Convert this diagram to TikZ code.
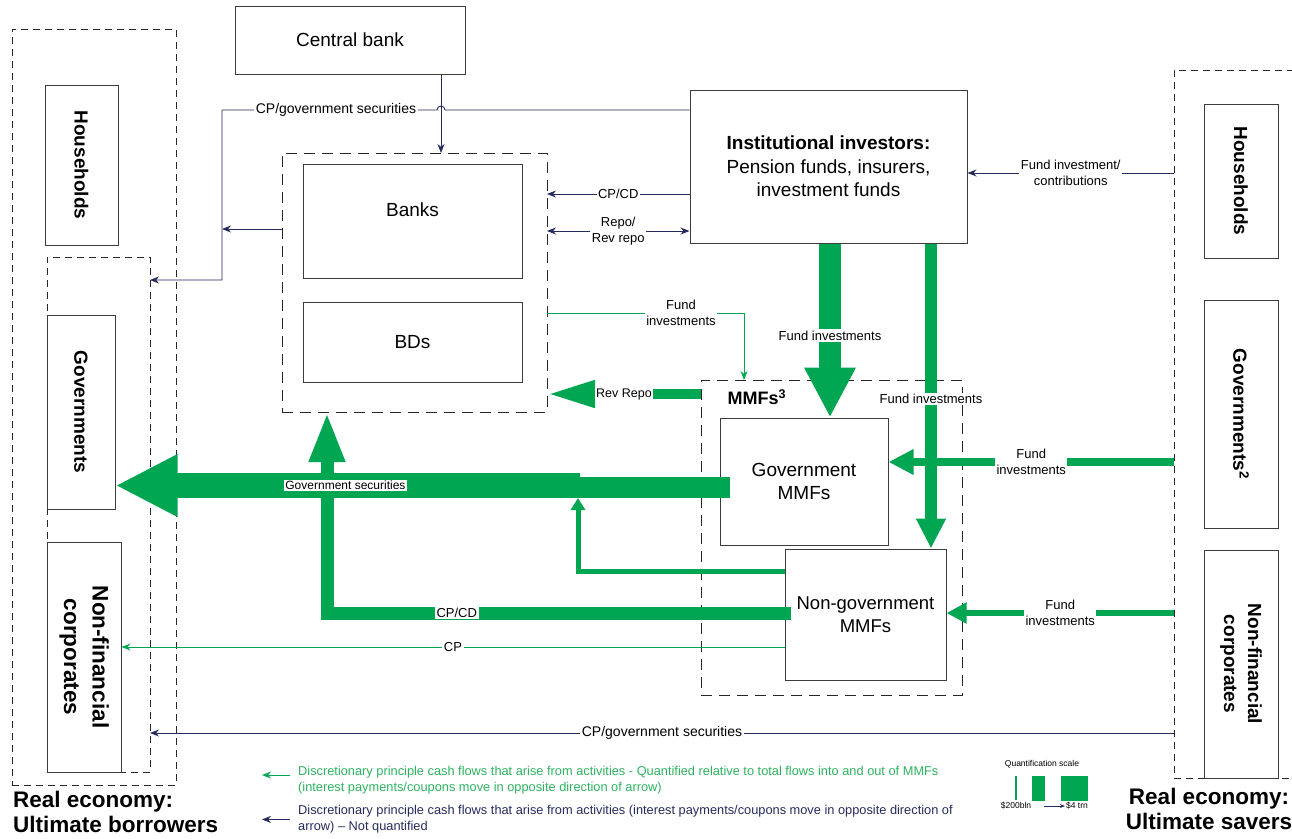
\documentclass[tikz,border=0pt]{standalone}
\usepackage{fontspec}
\setmainfont{Liberation Sans}
\usepackage{graphicx}
\usepackage{tikz}
\usetikzlibrary{arrows.meta}
\usepackage{xcolor}
\definecolor{flowgreen}{HTML}{00A651}
\definecolor{legendgreen}{HTML}{2DB35F}
\definecolor{navy}{HTML}{252B5C}
\definecolor{boxline}{HTML}{3C3C3C}
\newcommand{\fsz}[2]{\fontsize{#1}{#2}\selectfont}
\tikzset{
  entity/.style={draw=boxline, line width=1pt, fill=white, align=center, inner sep=2pt},
  sector/.style={entity, font=\bfseries\fsz{19}{23}},
  group/.style={draw=black!85, line width=0.9pt, dash pattern=on 7pt off 5pt, inner sep=0pt, outer sep=0pt},
  widegroup/.style={group, dash pattern=on 11pt off 7pt},
  navyflow/.style={draw=navy, line width=0.9pt, -{Stealth[length=9pt,width=7pt]}},
  greenthin/.style={draw=flowgreen, line width=1pt, -{Stealth[length=9pt,width=7pt]}},
  greenflow/.style={draw=flowgreen, line join=miter},
  lbl/.style={fill=white, inner sep=1.5pt, font=\fsz{13}{16}, align=center},
  legendtxt/.style={anchor=north west, inner sep=0pt, align=left, font=\fsz{12.8}{16.5}},
  realtxt/.style={inner sep=0pt, font=\bfseries\fsz{22.5}{25}}
}

\begin{document}
\begin{tikzpicture}[x=1pt, y=-1pt, font=\fsz{19}{23}]
  \useasboundingbox (0,0) rectangle (1292,838);
  \clip (0,0) rectangle (1292,838);

  % groups
  \node[group, minimum width=164pt, minimum height=756pt] (lreal) at (94,407) {};
  \node[group, minimum width=103pt, minimum height=515pt] (lsub) at (98.5,514.5) {};
  \node[group, minimum width=126pt, minimum height=708pt] (rreal) at (1237,424) {};
  \node[widegroup, minimum width=265pt, minimum height=259pt] (bgrp) at (414.5,282.5) {};
  \node[widegroup, minimum width=261pt, minimum height=315pt] (mgrp) at (831.5,537.5) {};

  % real economy sectors
  \node[sector, minimum width=73pt, minimum height=160pt] (lhh) at (81.5,165) {\rotatebox{-90}{Households}};
  \node[sector, minimum width=68pt, minimum height=194pt] (lgov) at (81,412) {\rotatebox{-90}{Governments}};
  \node[sector, minimum width=74pt, minimum height=230pt, font=\bfseries\fsz{22.5}{28.5}] (lnfc) at (84,657)
    {\rotatebox{-90}{\begin{tabular}{@{}c@{}}Non-financial\\corporates\end{tabular}}};
  \node[sector, minimum width=74pt, minimum height=154pt] (rhh) at (1241,181) {\rotatebox{-90}{Households}};
  \node[sector, minimum width=74pt, minimum height=228pt] (rgov) at (1241,414) {\rotatebox{-90}{Governments\textsuperscript{2}}};
  \node[sector, minimum width=74pt, minimum height=228pt, font=\bfseries\fsz{19}{24}] (rnfc) at (1241,664)
    {\rotatebox{-90}{\begin{tabular}{@{}c@{}}Non-financial\\corporates\end{tabular}}};

  % financial sector
  \node[entity, minimum width=230pt, minimum height=68pt] (cbank) at (350,40) {Central bank};
  \node[entity, minimum width=219pt, minimum height=114pt, text depth=22pt] (banks) at (412.5,221) {Banks};
  \node[entity, minimum width=219pt, minimum height=80pt] (bds) at (412.5,342) {BDs};
  \node[entity, minimum width=277pt, minimum height=153pt, font=\fsz{19}{23.5}] (inst) at (828.5,166.5)
    {\textbf{Institutional investors:}\\Pension funds, insurers,\\investment funds};
  \node[entity, minimum width=168pt, minimum height=127pt] (gmmf) at (804,481.5) {Government\\MMFs};
  \node[entity, minimum width=161pt, minimum height=131pt, font=\fsz{18.5}{23}] (nmmf) at (865.5,614.5) {Non-government\\MMFs};
  \node[font=\bfseries\fsz{18}{20}, anchor=west] (mmfs) at (724,397) {MMFs\textsuperscript{3}};

  % not quantified flows
  \draw[navyflow] (441,0 |- cbank.south) -- (441,0 |- bgrp.north);
  \draw[navyflow] (inst.west |- 0,110) -- (445,110) arc[start angle=0, end angle=180, radius=4pt]
    -- node[lbl, font=\fsz{14}{16}, pos=0.47] {CP/government securities} (222,110) -- (222,280) -- (lsub.east |- 0,280);
  \draw[navyflow] (bgrp.west |- 0,229) -- (222,229);
  \draw[navyflow] (inst.west |- 0,194) -- node[lbl] {CP/CD} (bgrp.east |- 0,194);
  \draw[navyflow, {Stealth[length=9pt,width=7pt]}-{Stealth[length=9pt,width=7pt]}] (bgrp.east |- 0,231)
    -- node[lbl] {Repo/\\Rev repo} (inst.west |- 0,231);
  \draw[navyflow] (rreal.west |- 0,173) -- node[lbl] {Fund investment/\\contributions} (inst.east |- 0,173);
  \draw[navyflow] (rreal.west |- 0,733) -- node[lbl, font=\fsz{14}{16}] {CP/government securities} (lsub.east |- 0,733);

  % quantified flows
  \coordinate (gsstart) at ([xshift=10pt]gmmf.west);
  \coordinate (nmmfin) at ([xshift=6pt]nmmf.west);
  \coordinate (gsstep) at (580,486);
  \coordinate (gsbot) at (578,498);
  \draw[greenthin] (bgrp.east |- 0,313) -- node[lbl, pos=0.68] {Fund\\investments} (744,313) -- (744,0 |- mgrp.north);
  \draw[greenflow, line width=22pt, -{Triangle[length=50pt,width=48pt]}] (830,0 |- inst.south)
    -- node[lbl, pos=0.53] {Fund investments} (830,0 |- gmmf.north);
  \draw[greenflow, line width=12pt, -{Triangle[length=30pt,width=28pt]}] (931,0 |- inst.south)
    -- node[lbl, pos=0.51] {Fund investments} (931,0 |- nmmf.north);
  \draw[greenflow, line width=10pt, -{Triangle[length=48pt,width=25pt]}] (mgrp.west |- 0,394)
    -- node[lbl, font=\fsz{12.5}{14}] {Rev Repo} (bgrp.east |- 0,394);
  \draw[greenflow, line width=13pt, -{Triangle[length=50pt,width=33pt]}] (nmmfin |- 0,613)
    -- node[lbl, pos=0.72] {CP/CD} (327,613) -- (327,0 |- bgrp.south);
  \draw[greenflow, line width=5pt, -{Triangle[length=12pt,width=14pt]}] (nmmf.west |- 0,571) -| (gsbot);
  \draw[greenflow, line width=21pt] (gsstart |- 0,487.5) -- (gsstep |- 0,487.5);
  \draw[greenflow, line width=25pt, -{Triangle[length=62pt,width=58pt]}] (gsstep |- 0,485.5)
    -- node[lbl, font=\fsz{12}{14}, pos=0.505] {Government securities} (lgov.east |- 0,485.5);
  \draw[greenthin] (nmmf.west |- 0,647) -- node[lbl] {CP} (lnfc.east |- 0,647);
  \draw[greenflow, line width=8pt, -{Triangle[length=25pt,width=24pt]}] (rreal.west |- 0,462)
    -- node[lbl] {Fund\\investments} (gmmf.east |- 0,462);
  \draw[greenflow, line width=6.5pt, -{Triangle[length=20pt,width=20pt]}] (rreal.west |- 0,613)
    -- node[lbl] {Fund\\investments} (nmmf.east |- 0,613);

  % legend
  \node[legendtxt, text=legendgreen] (legq) at (298,766)
    {Discretionary principle cash flows that arise from activities - Quantified relative to total flows into and out of MMFs\\(interest payments/coupons move in opposite direction of arrow)};
  \draw[greenthin] ([xshift=-8pt,yshift=-9pt]legq.north west) -- ([xshift=-36pt,yshift=-9pt]legq.north west);
  \node[legendtxt, text=navy] (legn) at (298,805)
    {Discretionary principle cash flows that arise from activities (interest payments/coupons move in opposite direction of\\arrow) -- Not quantified};
  \draw[navyflow] ([xshift=-8pt]legn.west) -- ([xshift=-36pt]legn.west);

  \node[font=\fsz{8.5}{9}] (qtitle) at (1042,764) {Quantification scale};
  \draw[flowgreen, line width=1.2pt] (1016,776) -- (1016,800);
  \fill[flowgreen] (1032,776) rectangle (1045,801);
  \fill[flowgreen] (1061,776) rectangle (1088,801);
  \node[font=\fsz{8.5}{9}, inner sep=1pt] (qlow) at (1016,806) {\$200bln};
  \node[font=\fsz{8.5}{9}, inner sep=1pt] (qhigh) at (1077,806) {\$4 trn};
  \draw[navy, line width=0.7pt, -{Stealth[length=5pt,width=4pt]}] ([xshift=12pt]qlow.east) -- (qhigh.west);

  \node[realtxt, align=left, anchor=north west] (borrowers) at (13,791) {Real economy:\\Ultimate borrowers};
  \node[realtxt, align=center, anchor=north] (savers) at (1209,788) {Real economy:\\Ultimate savers};
\end{tikzpicture}
\end{document}
